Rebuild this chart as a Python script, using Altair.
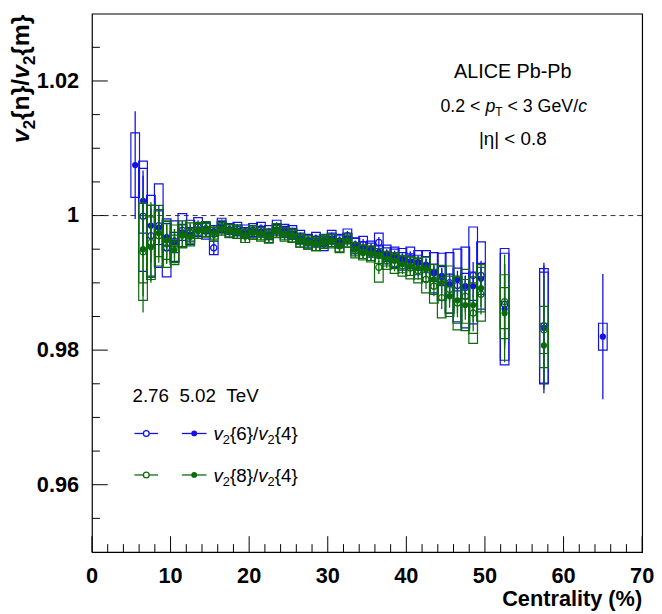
import altair as alt
import pandas as pd

FONT = "Liberation Sans"
BLUE = "#1212e8"
GREEN = "#0b6b0b"

# ---------------- data ----------------
cent_v64_502 = [5.5, 6.5, 7.5, 8.5, 9.5, 10.5, 11.5, 12.5, 13.5, 14.5,
                15.5, 16.5, 17.5, 18.5, 19.5, 20.5, 21.5, 22.5, 23.5, 24.5,
                25.5, 26.5, 27.5, 28.5, 29.5, 30.5, 31.5, 32.5, 33.5, 34.5,
                35.5, 36.5, 37.5, 38.5, 39.5, 40.5, 41.5, 42.5, 43.5, 44.5,
                45.5, 46.5, 47.5, 48.5, 49.5, 52.5, 57.5, 65.0]
val_v64_502 = [1.0075, 1.0022, 0.9985, 0.9982, 0.9968, 0.9960, 0.9975, 0.9972, 0.9980, 0.9981,
               0.9977, 0.9983, 0.9980, 0.9978, 0.9974, 0.9977, 0.9976, 0.9972, 0.9979, 0.9976,
               0.9973, 0.9966, 0.9963, 0.9961, 0.9963, 0.9966, 0.9962, 0.9966, 0.9957, 0.9952,
               0.9950, 0.9946, 0.9942, 0.9940, 0.9935, 0.9932, 0.9930, 0.9927, 0.9915, 0.9910,
               0.9898, 0.9905, 0.9895, 0.9895, 0.9906, 0.9861, 0.9833, 0.9820]
stat_v64_502 = [0.0080, 0.0045, 0.0030, 0.0022, 0.0018, 0.0015, 0.0012, 0.0010, 0.0009, 0.0008,
                0.0008, 0.0007, 0.0007, 0.0007, 0.0006, 0.0006, 0.0006, 0.0006, 0.0006, 0.0006,
                0.0006, 0.0006, 0.0006, 0.0006, 0.0006, 0.0006, 0.0006, 0.0006, 0.0006, 0.0007,
                0.0007, 0.0007, 0.0007, 0.0008, 0.0008, 0.0008, 0.0009, 0.0009, 0.0010, 0.0011,
                0.0012, 0.0013, 0.0015, 0.0016, 0.0018, 0.0050, 0.0097, 0.0093]
sys_v64_502 = [0.0048, 0.0048, 0.0030, 0.0025, 0.0020, 0.0015, 0.0012, 0.0010, 0.0009, 0.0008,
               0.0008, 0.0008, 0.0008, 0.0008, 0.0008, 0.0008, 0.0008, 0.0008, 0.0008, 0.0008,
               0.0008, 0.0008, 0.0008, 0.0008, 0.0008, 0.0008, 0.0008, 0.0008, 0.0009, 0.0009,
               0.0009, 0.0009, 0.0010, 0.0010, 0.0010, 0.0011, 0.0011, 0.0012, 0.0013, 0.0014,
               0.0015, 0.0017, 0.0019, 0.0021, 0.0023, 0.0083, 0.0083, 0.0020]

cent_276 = [6.5, 7.5, 8.5, 9.5, 10.5, 11.5, 12.5, 13.5, 14.5, 15.5,
            16.5, 17.5, 18.5, 19.5, 20.5, 21.5, 22.5, 23.5, 24.5, 25.5,
            26.5, 27.5, 28.5, 29.5, 30.5, 31.5, 32.5, 33.5, 34.5, 35.5,
            36.5, 37.5, 38.5, 39.5, 40.5, 41.5, 42.5, 43.5, 44.5, 45.5,
            46.5, 47.5, 48.5, 49.5, 52.5, 57.5]
val_v64_276 = [0.9999, 0.9970, 0.9985, 0.9952, 0.9962, 0.9978, 0.9975, 0.9983, 0.9977, 0.9952,
               0.9986, 0.9978, 0.9980, 0.9976, 0.9978, 0.9980, 0.9975, 0.9983, 0.9977, 0.9975,
               0.9968, 0.9962, 0.9965, 0.9958, 0.9968, 0.9962, 0.9970, 0.9955, 0.9957, 0.9950,
               0.9960, 0.9942, 0.9938, 0.9935, 0.9937, 0.9930, 0.9925, 0.9915, 0.9909, 0.9900,
               0.9896, 0.9893, 0.9911, 0.9911, 0.9868, 0.9836]
stat_v64_276 = [0.0060, 0.0040, 0.0030, 0.0022, 0.0018, 0.0014, 0.0012, 0.0010, 0.0009, 0.0009,
                0.0008, 0.0008, 0.0007, 0.0007, 0.0007, 0.0007, 0.0007, 0.0007, 0.0007, 0.0007,
                0.0007, 0.0007, 0.0007, 0.0007, 0.0007, 0.0007, 0.0007, 0.0007, 0.0008, 0.0008,
                0.0008, 0.0008, 0.0009, 0.0009, 0.0010, 0.0010, 0.0011, 0.0012, 0.0013, 0.0014,
                0.0016, 0.0018, 0.0020, 0.0022, 0.0060, 0.0090]
sys_v64_276 = [0.0082, 0.0060, 0.0062, 0.0043, 0.0030, 0.0025, 0.0018, 0.0014, 0.0012, 0.0010,
               0.0010, 0.0010, 0.0010, 0.0010, 0.0010, 0.0010, 0.0010, 0.0010, 0.0010, 0.0010,
               0.0010, 0.0010, 0.0010, 0.0010, 0.0010, 0.0010, 0.0010, 0.0012, 0.0012, 0.0012,
               0.0014, 0.0014, 0.0015, 0.0016, 0.0016, 0.0018, 0.0023, 0.0030, 0.0035, 0.0045,
               0.0054, 0.0060, 0.0072, 0.0050, 0.0083, 0.0085]

val_v84_276 = [0.9946, 0.9960, 0.9970, 0.9958, 0.9958, 0.9972, 0.9974, 0.9978, 0.9980, 0.9972,
               0.9983, 0.9977, 0.9976, 0.9970, 0.9975, 0.9972, 0.9970, 0.9978, 0.9972, 0.9970,
               0.9963, 0.9960, 0.9958, 0.9962, 0.9962, 0.9955, 0.9963, 0.9948, 0.9945, 0.9943,
               0.9923, 0.9933, 0.9928, 0.9925, 0.9922, 0.9918, 0.9905, 0.9895, 0.9878, 0.9890,
               0.9870, 0.9880, 0.9855, 0.9883, 0.9872, 0.9830]
stat_v84_276 = [0.0090, 0.0060, 0.0040, 0.0030, 0.0022, 0.0018, 0.0015, 0.0012, 0.0011, 0.0010,
                0.0010, 0.0009, 0.0009, 0.0009, 0.0009, 0.0009, 0.0009, 0.0009, 0.0009, 0.0009,
                0.0009, 0.0009, 0.0009, 0.0009, 0.0009, 0.0009, 0.0009, 0.0010, 0.0010, 0.0010,
                0.0010, 0.0011, 0.0011, 0.0012, 0.0012, 0.0013, 0.0014, 0.0015, 0.0017, 0.0019,
                0.0021, 0.0024, 0.0027, 0.0030, 0.0070, 0.0080]
sys_v84_276 = [0.0072, 0.0055, 0.0045, 0.0035, 0.0028, 0.0020, 0.0015, 0.0012, 0.0011, 0.0010,
               0.0010, 0.0010, 0.0010, 0.0010, 0.0010, 0.0010, 0.0010, 0.0010, 0.0010, 0.0010,
               0.0010, 0.0010, 0.0010, 0.0010, 0.0010, 0.0010, 0.0010, 0.0011, 0.0011, 0.0012,
               0.0022, 0.0013, 0.0014, 0.0015, 0.0016, 0.0018, 0.0020, 0.0025, 0.0030, 0.0035,
               0.0040, 0.0040, 0.0045, 0.0040, 0.0040, 0.0035]

val_v84_502 = [0.9950, 0.9953, 0.9974, 0.9963, 0.9949, 0.9970, 0.9968, 0.9977, 0.9978, 0.9974,
               0.9980, 0.9977, 0.9975, 0.9969, 0.9974, 0.9973, 0.9968, 0.9976, 0.9973, 0.9970,
               0.9962, 0.9959, 0.9957, 0.9960, 0.9963, 0.9955, 0.9962, 0.9950, 0.9946, 0.9943,
               0.9940, 0.9936, 0.9933, 0.9928, 0.9925, 0.9922, 0.9920, 0.9905, 0.9900, 0.9880,
               0.9874, 0.9867, 0.9867, 0.9892, 0.9855, 0.9807]
stat_v84_502 = [0.0070, 0.0050, 0.0035, 0.0025, 0.0020, 0.0016, 0.0013, 0.0011, 0.0010, 0.0009,
                0.0009, 0.0008, 0.0008, 0.0008, 0.0008, 0.0008, 0.0008, 0.0008, 0.0008, 0.0008,
                0.0008, 0.0008, 0.0008, 0.0008, 0.0008, 0.0008, 0.0008, 0.0009, 0.0009, 0.0009,
                0.0009, 0.0010, 0.0010, 0.0011, 0.0011, 0.0012, 0.0013, 0.0014, 0.0015, 0.0017,
                0.0019, 0.0022, 0.0025, 0.0028, 0.0073, 0.0065]
sys_v84_502 = [0.0050, 0.0045, 0.0035, 0.0028, 0.0022, 0.0016, 0.0013, 0.0011, 0.0010, 0.0009,
               0.0009, 0.0009, 0.0009, 0.0009, 0.0009, 0.0009, 0.0009, 0.0009, 0.0009, 0.0009,
               0.0009, 0.0009, 0.0009, 0.0009, 0.0009, 0.0009, 0.0009, 0.0010, 0.0010, 0.0010,
               0.0011, 0.0011, 0.0012, 0.0013, 0.0014, 0.0016, 0.0018, 0.0022, 0.0026, 0.0030,
               0.0034, 0.0038, 0.0042, 0.0035, 0.0038, 0.0033]

x_major_ticks = [0, 10, 20, 30, 40, 50, 60, 70]
x_tick_labels = ["0", "10", "20", "30", "40", "50", "60", "70"]
x_minor_ticks = [2, 4, 6, 8, 12, 14, 16, 18, 22, 24, 26, 28, 32, 34, 36, 38,
                 42, 44, 46, 48, 52, 54, 56, 58, 62, 64, 66, 68]
y_major_ticks = [0.96, 0.98, 1.0, 1.02]
y_tick_labels = ["0.96", "0.98", "1", "1.02"]
y_minor_ticks = [0.955, 0.965, 0.97, 0.975, 0.985, 0.99, 0.995,
                 1.005, 1.01, 1.015, 1.025]

SERIES = ["v64_276", "v64_502", "v84_276", "v84_502"]


def mk(cent, val, stat, sys, name):
    return pd.DataFrame({"c": cent, "v": val, "stat": stat, "sys": sys, "s": name})


df = pd.concat([
    mk(cent_276, val_v64_276, stat_v64_276, sys_v64_276, "v64_276"),
    mk(cent_v64_502, val_v64_502, stat_v64_502, sys_v64_502, "v64_502"),
    mk(cent_276, val_v84_276, stat_v84_276, sys_v84_276, "v84_276"),
    mk(cent_276, val_v84_502, stat_v84_502, sys_v84_502, "v84_502"),
], ignore_index=True)

W, H = 557, 545
x_scale = alt.Scale(domain=[0, 70], nice=False, zero=False)
y_scale = alt.Scale(domain=[0.95, 1.03], nice=False, zero=False)
color = alt.Color("s:N", scale=alt.Scale(domain=SERIES, range=[BLUE, BLUE, GREEN, GREEN]), legend=None)

base = alt.Chart(df).transform_calculate(
    lo="datum.v - datum.stat", hi="datum.v + datum.stat",
    blo="datum.v - datum.sys", bhi="datum.v + datum.sys",
    cl="datum.c - 0.55", cr="datum.c + 0.55",
)


def series_layers(name, is_open):
    b = base.transform_filter(alt.datum.s == name)
    boxes = b.mark_rect(filled=False, strokeWidth=1.2).encode(
        x=alt.X("cl:Q", scale=x_scale, axis=None), x2="cr:Q",
        y=alt.Y("blo:Q", scale=y_scale, axis=None), y2="bhi:Q", color=color)
    bars = b.mark_rule(strokeWidth=1.3).encode(
        x=alt.X("c:Q", scale=x_scale, axis=None),
        y=alt.Y("lo:Q", scale=y_scale, axis=None), y2="hi:Q", color=color)
    pts = b.mark_point(shape="circle", filled=not is_open, size=40,
                       strokeWidth=1.3, opacity=1).encode(
        x=alt.X("c:Q", scale=x_scale, axis=None),
        y=alt.Y("v:Q", scale=y_scale, axis=None), color=color)
    return [boxes, bars, pts]


tick_layers = [
    alt.Chart(pd.DataFrame({"t": x_major_ticks})).mark_rule(color="black").encode(
        x=alt.X("t:Q", scale=x_scale, axis=None), y=alt.value(H), y2=alt.value(H - 16)),
    alt.Chart(pd.DataFrame({"t": x_minor_ticks})).mark_rule(color="black").encode(
        x=alt.X("t:Q", scale=x_scale, axis=None), y=alt.value(H), y2=alt.value(H - 8)),
    alt.Chart(pd.DataFrame({"t": y_major_ticks})).mark_rule(color="black").encode(
        y=alt.Y("t:Q", scale=y_scale, axis=None), x=alt.value(0), x2=alt.value(16)),
    alt.Chart(pd.DataFrame({"t": y_minor_ticks})).mark_rule(color="black").encode(
        y=alt.Y("t:Q", scale=y_scale, axis=None), x=alt.value(0), x2=alt.value(8)),
    # tick labels
    alt.Chart(pd.DataFrame({"t": x_major_ticks, "lab": x_tick_labels})).mark_text(
        font=FONT, fontSize=22, fontWeight="bold", align="center", baseline="alphabetic",
        color="black").encode(
        x=alt.X("t:Q", scale=x_scale, axis=None), y=alt.value(H + 31), text="lab:N"),
    alt.Chart(pd.DataFrame({"t": y_major_ticks, "lab": y_tick_labels})).mark_text(
        font=FONT, fontSize=22, fontWeight="bold", align="right", baseline="middle",
        color="black").encode(
        y=alt.Y("t:Q", scale=y_scale, axis=None), x=alt.value(-13), text="lab:N"),
]

dash = alt.Chart(pd.DataFrame({"k": [0]})).mark_rule(
    color="#333333", strokeDash=[5, 4], strokeWidth=1).encode(
    y=alt.Y(datum=1.0, scale=y_scale, axis=None))

# ---------------- text helpers ----------------
W_REG = {'0': 556, '1': 556, '2': 556, '3': 556, '4': 556, '5': 556, '6': 556, '7': 556,
         '8': 556, '9': 556, '.': 278, ' ': 278, '<': 584, 'G': 778, 'e': 556,
         'V': 667, '/': 278, 'p': 556, 'T': 611, 'c': 500, 'v': 500, '{': 334, '}': 334,
         '|': 260, 'A': 667, 'L': 556, 'I': 278, 'C': 722, 'E': 667, 'P': 667, 'b': 556,
         '-': 333}
W_BOLD = {'v': 556, '2': 556, '{': 389, '}': 389, 'n': 611, 'm': 889, '/': 278}
dummy = pd.DataFrame({"k": [0]})


def tw(s, size, bold=False):
    tbl = W_BOLD if bold else W_REG
    return sum(tbl.get(ch, 556) for ch in s) * size / 1000.0


def rich(pieces, x0, y0, angle=0):
    """pieces: (text, size, style, weight, dy); spaces at the ends become offsets."""
    out = []
    off = 0.0
    for txt, size, style, weight, dy in pieces:
        bold = weight == "bold"
        lead = len(txt) - len(txt.lstrip(" "))
        core = txt.strip(" ")
        trail = len(txt) - len(txt.rstrip(" "))
        off += tw(" " * lead, size, bold)
        if core:
            kw = dict(text=core, fontSize=size, font=FONT, align="left",
                      baseline="alphabetic", color="black", dx=off, dy=dy)
            if style:
                kw["fontStyle"] = style
            if weight:
                kw["fontWeight"] = weight
            if angle:
                kw["angle"] = angle
            out.append(alt.Chart(dummy).mark_text(**kw).encode(x=alt.value(x0), y=alt.value(y0)))
            off += tw(core, size, bold)
        off += tw(" " * trail, size, bold)
    return out


FS = 19
SUB = 13
texts = []
# top-right annotation
texts.append(alt.Chart(dummy).mark_text(text="ALICE Pb-Pb", fontSize=20, font=FONT, align="center",
                                        baseline="alphabetic", color="black").encode(
    x=alt.value(426), y=alt.value(65)))
FS2 = 18
line2 = [("0.2 < ", FS2, None, None, 0), ("p", FS2, "italic", None, 0),
         ("T", 12, None, None, 4), (" < 3 GeV/", FS2, None, None, 0),
         ("c", FS2, "italic", None, 0)]
l2w = sum(tw(p[0], p[1]) for p in line2)
texts += rich(line2, 427 - l2w / 2, 100)
texts.append(alt.Chart(dummy).mark_text(text="|\u03b7| < 0.8", fontSize=FS, font=FONT,
                                        align="center", baseline="alphabetic", color="black").encode(
    x=alt.value(426), y=alt.value(133)))

# legend
texts += rich([("2.76", FS, None, None, 0), ("  5.02", FS, None, None, 0),
               ("  TeV", FS, None, None, 0)], 41, 393)
leg = []
for yrow, col in [(425, BLUE), (467, GREEN)]:
    leg.append(alt.Chart(dummy).mark_rule(color=col, strokeWidth=1.3).encode(
        x=alt.value(43), x2=alt.value(67), y=alt.value(yrow)))
    leg.append(alt.Chart(dummy).mark_rule(color=col, strokeWidth=1.3).encode(
        x=alt.value(91), x2=alt.value(116), y=alt.value(yrow)))
    leg.append(alt.Chart(dummy).mark_point(shape="circle", filled=False, size=34, color=col,
                                           strokeWidth=1.3, fill="white", opacity=1).encode(
        x=alt.value(55), y=alt.value(yrow)))
    leg.append(alt.Chart(dummy).mark_point(shape="circle", filled=True, size=34, color=col,
                                           opacity=1).encode(
        x=alt.value(103.5), y=alt.value(yrow)))

for num, yb in [("6", 432), ("8", 474)]:
    texts += rich([("v", FS, "italic", None, 0), ("2", SUB, None, None, 4),
                   ("{" + num + "}/", FS, None, None, 0), ("v", FS, "italic", None, 0),
                   ("2", SUB, None, None, 4), ("{4}", FS, None, None, 0)], 123, yb)

# y-axis title (rotated)
YT = 25
YS = 17
texts += rich([("v", YT, "italic", "bold", 0), ("2", YS, None, "bold", 6),
               ("{n}/", YT, None, "bold", 0), ("v", YT, "italic", "bold", 0),
               ("2", YS, None, "bold", 6), ("{m}", YT, None, "bold", 0)], -64, 131, angle=270)

# x-axis title
texts.append(alt.Chart(dummy).mark_text(text="Centrality (%)", fontSize=22, font=FONT,
                                        fontWeight="bold", align="right", baseline="alphabetic",
                                        color="black").encode(x=alt.value(W), y=alt.value(600)))

layers = tick_layers + [dash]
for name, is_open in [("v64_276", True), ("v64_502", False), ("v84_276", True), ("v84_502", False)]:
    layers += series_layers(name, is_open)
layers += leg + texts

chart = alt.layer(*layers).properties(
    width=W, height=H, background="white",
    padding={"left": 85, "top": 2, "right": 12, "bottom": 59},
    autosize=alt.AutoSizeParams(type="none"),
).configure_view(stroke="black", strokeWidth=1.2)

chart.save("out.html", embed_options={"renderer": "svg", "actions": False})
